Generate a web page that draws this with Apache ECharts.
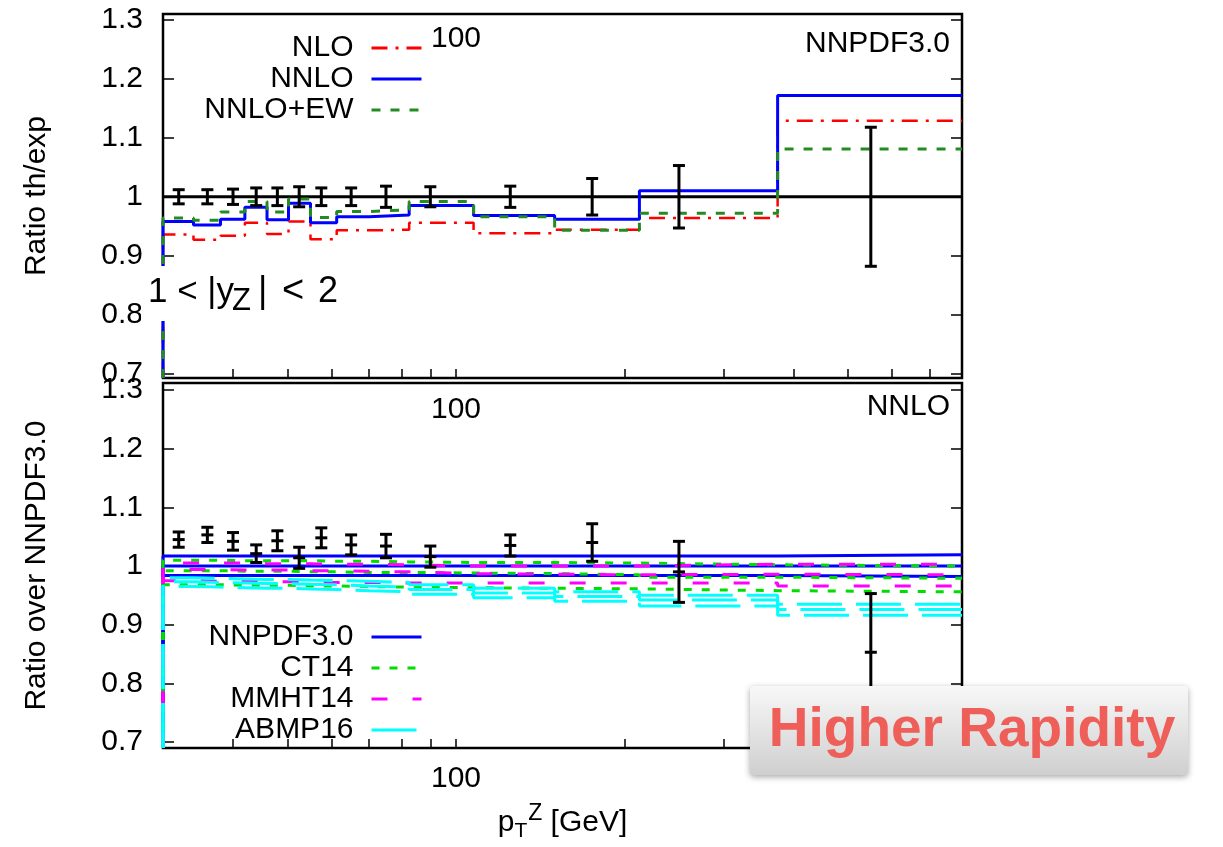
<!DOCTYPE html>
<html><head><meta charset="utf-8">
<script src="https://cdn.jsdelivr.net/npm/echarts@6/dist/echarts.min.js"></script>
<style>html,body{margin:0;padding:0;background:#fff}#c{width:1223px;height:847px}</style>
</head><body><div id="c"></div>
<script>
// ---- data ----
const binEdges = [30, 34, 38, 42, 46, 50.25, 55, 61.25, 70, 82.5, 107.5, 150, 212.5, 375, 800];
const dataPt = [32, 36, 40, 44, 48, 52.5, 57.5, 65, 75, 90, 125, 175, 250, 550];
const yTicks = [0.7, 0.8, 0.9, 1, 1.1, 1.2, 1.3];
const xTicks = [40, 50, 60, 70, 80, 90, 100, 200, 300, 400, 500, 600, 700];
const xLabels = [100];

// top panel: ratio th/exp
const nlo    = [0.936, 0.927, 0.934, 0.956, 0.937, 0.958, 0.928, 0.943, 0.944, 0.956, 0.938, 0.944, 0.964, 1.129];
const nnlo   = [0.958, 0.952, 0.962, 0.982, 0.961, 0.989, 0.956, 0.966, 0.969, 0.985, 0.968, 0.962, 1.010, 1.172];
const nnloEw = [0.964, 0.960, 0.974, 0.992, 0.974, 0.996, 0.965, 0.975, 0.978, 0.992, 0.966, 0.943, 0.972, 1.081];
const topData = [1, 1, 1, 1, 1, 1, 1, 1, 1, 1, 1, 1, 1, 1];
const topErr  = [0.012, 0.012, 0.013, 0.015, 0.015, 0.017, 0.015, 0.015, 0.018, 0.017, 0.018, 0.031, 0.053, 0.118];

// bottom panel: ratio over NNPDF3.0
const botData = [1.045, 1.053, 1.042, 1.021, 1.043, 1.014, 1.048, 1.036, 1.034, 1.016, 1.035, 1.040, 0.990, 0.853];
const botErr  = [0.013, 0.013, 0.015, 0.015, 0.017, 0.018, 0.017, 0.017, 0.020, 0.018, 0.018, 0.032, 0.052, 0.100];

const nnpdfUp  = [1.017, 1.017, 1.017, 1.017, 1.017, 1.017, 1.017, 1.017, 1.017, 1.017, 1.017, 1.017, 1.017, 1.019];
const nnpdfCen = [1.000, 1.000, 1.000, 1.000, 1.000, 1.000, 1.000, 1.000, 1.000, 1.000, 1.000, 1.000, 1.000, 1.000];
const nnpdfLo  = [0.984, 0.984, 0.984, 0.984, 0.984, 0.984, 0.984, 0.984, 0.984, 0.984, 0.984, 0.984, 0.984, 0.982];
const ct14Up   = [1.010, 1.010, 1.009, 1.009, 1.009, 1.009, 1.008, 1.008, 1.007, 1.006, 1.006, 1.005, 1.002, 1.000];
const ct14Cen  = [0.992, 0.992, 0.991, 0.991, 0.991, 0.990, 0.990, 0.989, 0.989, 0.988, 0.987, 0.985, 0.981, 0.979];
const ct14Lo   = [0.968, 0.968, 0.967, 0.967, 0.967, 0.966, 0.966, 0.965, 0.964, 0.963, 0.962, 0.961, 0.958, 0.956];
const mmhtUp   = [1.005, 1.005, 1.005, 1.004, 1.004, 1.004, 1.003, 1.003, 1.002, 1.000, 1.000, 1.000, 1.003, 1.003];
const mmhtCen  = [0.994, 0.994, 0.993, 0.993, 0.993, 0.992, 0.992, 0.991, 0.990, 0.987, 0.986, 0.985, 0.986, 0.985];
const mmhtLo   = [0.975, 0.974, 0.974, 0.973, 0.973, 0.973, 0.972, 0.972, 0.971, 0.971, 0.971, 0.971, 0.971, 0.966];
const abmpUp   = [0.980, 0.979, 0.978, 0.977, 0.977, 0.976, 0.975, 0.974, 0.972, 0.968, 0.962, 0.956, 0.950, 0.935];
const abmpCen  = [0.973, 0.972, 0.971, 0.970, 0.970, 0.969, 0.968, 0.966, 0.964, 0.960, 0.954, 0.948, 0.942, 0.926];
const abmpLo   = [0.965, 0.964, 0.963, 0.962, 0.962, 0.961, 0.960, 0.958, 0.956, 0.952, 0.946, 0.940, 0.932, 0.916];

// ---- chart ----
const FONT = 'Liberation Sans, Arial, Helvetica, sans-serif';
const TOP_Y = [0.6924, 1.3102];
const BOT_Y = [0.6898, 1.3119];
const chart = echarts.init(document.getElementById('c'), null, {renderer: 'canvas'});

function stepSeries(name, ax, vals, color, width, dash, ymin) {
  const d = [[binEdges[0], ymin]];
  vals.forEach((v, i) => d.push([binEdges[i], v]));
  d.push([binEdges[binEdges.length - 1], vals[vals.length - 1]]);
  return {
    name, type: 'line', xAxisIndex: ax, yAxisIndex: ax, step: 'end', data: d,
    symbol: 'none', silent: true, animation: false, clip: true,
    lineStyle: {color, width, type: dash}, itemStyle: {color}
  };
}
function errSeries(ax, ys, es, center) {
  return {
    type: 'custom', xAxisIndex: ax, yAxisIndex: ax, silent: true, animation: false, z: 5,
    data: dataPt.map((x, i) => [x, ys[i], es[i]]),
    renderItem: (params, api) => {
      const x = api.value(0), y = api.value(1), e = api.value(2);
      const a = api.coord([x, y + e]), b = api.coord([x, y - e]), c = api.coord([x, y]);
      const w = 6, st = {stroke: '#000', lineWidth: 3};
      const ch = [
        {type: 'line', shape: {x1: a[0], y1: a[1], x2: b[0], y2: b[1]}, style: st},
        {type: 'line', shape: {x1: a[0] - w, y1: a[1], x2: a[0] + w, y2: a[1]}, style: st},
        {type: 'line', shape: {x1: b[0] - w, y1: b[1], x2: b[0] + w, y2: b[1]}, style: st}
      ];
      if (center) ch.push({type: 'line', shape: {x1: c[0] - w, y1: c[1], x2: c[0] + w, y2: c[1]}, style: st});
      return {type: 'group', children: ch};
    }
  };
}
function xAxisBottom(grid, extra) {
  return Object.assign({
    gridIndex: grid, type: 'log', logBase: 10, min: 30, max: 800, position: 'bottom',
    axisLine: {show: false}, splitLine: {show: false},
    axisTick: {show: true, inside: true, length: 9, customValues: xTicks, lineStyle: {color: '#000', width: 1.5}},
    axisLabel: {show: false}
  }, extra || {});
}
function xAxisTopLabel(grid, margin) {
  return {
    gridIndex: grid, type: 'log', logBase: 10, min: 30, max: 800, position: 'top',
    axisLine: {show: false}, splitLine: {show: false}, axisTick: {show: false},
    axisLabel: {show: true, inside: true, margin, customValues: xLabels, fontSize: 30, fontFamily: FONT, color: '#000'}
  };
}
function yAxisCfg(grid, rng, pos, labels, name) {
  return {
    gridIndex: grid, type: 'value', min: rng[0], max: rng[1], position: pos,
    axisLine: {show: false}, splitLine: {show: false},
    axisTick: {show: true, inside: true, length: 11, customValues: yTicks, lineStyle: {color: '#000', width: 1.5}},
    axisLabel: labels ? {show: true, customValues: yTicks, margin: 20, fontSize: 30, fontFamily: FONT, color: '#000',
      formatter: v => (Math.abs(v - 1) < 1e-9 ? '1' : (+v).toFixed(1))} : {show: false},
    name: name || '', nameLocation: 'middle', nameGap: 111, nameRotate: 90,
    nameTextStyle: {fontSize: 30, fontFamily: FONT, color: '#000'}
  };
}

const series = [
  {type: 'line', xAxisIndex: 0, yAxisIndex: 0, data: [[30, 1], [800, 1]], symbol: 'none', silent: true, animation: false,
   lineStyle: {color: '#000', width: 3}},
  stepSeries('NLO', 0, nlo, '#ff0000', 2.5, [16, 8, 3, 8], TOP_Y[0]),
  stepSeries('NNLO', 0, nnlo, '#0000ff', 3, 'solid', TOP_Y[0]),
  stepSeries('NNLO+EW', 0, nnloEw, '#228b22', 3, [9, 10], TOP_Y[0]),
  errSeries(0, topData, topErr, false),

  stepSeries('NNPDF3.0', 2, nnpdfUp, '#0000ff', 3, 'solid', BOT_Y[0]),
  stepSeries('NNPDF3.0', 2, nnpdfCen, '#0000ff', 3, 'solid', BOT_Y[0]),
  stepSeries('NNPDF3.0', 2, nnpdfLo, '#0000ff', 3, 'solid', BOT_Y[0]),
  stepSeries('CT14', 2, ct14Up, '#00dd00', 3, [8, 10], BOT_Y[0]),
  stepSeries('CT14', 2, ct14Cen, '#00dd00', 3, [8, 10], BOT_Y[0]),
  stepSeries('CT14', 2, ct14Lo, '#00dd00', 3, [8, 10], BOT_Y[0]),
  stepSeries('MMHT14', 2, mmhtUp, '#ff00ff', 3, [16, 25], BOT_Y[0]),
  stepSeries('MMHT14', 2, mmhtCen, '#ff00ff', 3, [16, 25], BOT_Y[0]),
  stepSeries('MMHT14', 2, mmhtLo, '#ff00ff', 3, [16, 25], BOT_Y[0]),
  stepSeries('ABMP16', 2, abmpUp, '#00ffff', 3, [45, 14], BOT_Y[0]),
  stepSeries('ABMP16', 2, abmpCen, '#00ffff', 3, [45, 14], BOT_Y[0]),
  stepSeries('ABMP16', 2, abmpLo, '#00ffff', 3, [45, 14], BOT_Y[0]),
  errSeries(2, botData, botErr, true)
];

const legendBase = {
  orient: 'vertical', align: 'right', right: 800, padding: 0, itemGap: 1, itemWidth: 50, itemHeight: 14,
  selectedMode: false, itemStyle: {opacity: 0}, lineStyle: {width: 3},
  textStyle: {fontSize: 30, fontFamily: FONT, color: '#000', lineHeight: 30, padding: [0, 13, 0, 0]}
};

const option = {
  backgroundColor: '#fff',
  animation: false,
  grid: [
    {left: 163, top: 14, width: 799, height: 364, show: true, borderColor: '#000', borderWidth: 2.5, backgroundColor: 'transparent'},
    {left: 163, top: 383, width: 799, height: 366, show: true, borderColor: '#000', borderWidth: 2.5, backgroundColor: 'transparent'}
  ],
  xAxis: [
    xAxisBottom(0),
    xAxisTopLabel(0, 10),
    xAxisBottom(1, {
      axisLabel: {show: true, customValues: xLabels, margin: 16, fontSize: 30, fontFamily: FONT, color: '#000'},
      name: '{p|p}{t|T}{z|Z}{n| [GeV]}', nameLocation: 'middle', nameGap: 52,
      nameTextStyle: {
        fontFamily: FONT, color: '#000', fontSize: 30,
        rich: {
          p: {fontSize: 30, fontFamily: FONT, lineHeight: 46, verticalAlign: 'middle'},
          t: {fontSize: 21, fontFamily: FONT, lineHeight: 46, verticalAlign: 'bottom', padding: [0, 0, 4, 0]},
          z: {fontSize: 23, fontFamily: FONT, lineHeight: 46, verticalAlign: 'top', padding: [2, 0, 0, 1]},
          n: {fontSize: 30, fontFamily: FONT, lineHeight: 46, verticalAlign: 'middle'}
        }
      }
    }),
    xAxisTopLabel(1, 12)
  ],
  yAxis: [
    yAxisCfg(0, TOP_Y, 'left', true, 'Ratio th/exp'),
    yAxisCfg(0, TOP_Y, 'right', false),
    yAxisCfg(1, BOT_Y, 'left', true, 'Ratio over NNPDF3.0'),
    yAxisCfg(1, BOT_Y, 'right', false)
  ],
  legend: [
    Object.assign({}, legendBase, {top: 33, data: ['NLO', 'NNLO', 'NNLO+EW']}),
    Object.assign({}, legendBase, {top: 622, data: ['NNPDF3.0', 'CT14', 'MMHT14', 'ABMP16']})
  ],
  series,
  graphic: [
    {type: 'text', z: 50, style: {text: 'NNPDF3.0', x: 950, y: 44, align: 'right', verticalAlign: 'middle', font: '30px ' + FONT, fill: '#000'}},
    {type: 'text', z: 50, style: {text: 'NNLO', x: 950, y: 407, align: 'right', verticalAlign: 'middle', font: '30px ' + FONT, fill: '#000'}},
    {type: 'rect', z: 60, shape: {x: 141, y: 266, width: 217, height: 55}, style: {fill: '#fff'}},
    {type: 'text', z: 61, style: {text: '1 < |y', x: 148, y: 292, align: 'left', verticalAlign: 'middle', font: '35px ' + FONT, fill: '#000'}},
    {type: 'text', z: 61, style: {text: 'Z', x: 232, y: 301, align: 'left', verticalAlign: 'middle', font: '31px ' + FONT, fill: '#000'}},
    {type: 'text', z: 61, style: {text: '|', x: 258, y: 292, align: 'left', verticalAlign: 'middle', font: '36px ' + FONT, fill: '#000'}},
    {type: 'text', z: 61, style: {text: '<', x: 282, y: 292, align: 'left', verticalAlign: 'middle', font: '38px ' + FONT, fill: '#000'}},
    {type: 'text', z: 61, style: {text: '2', x: 318, y: 292, align: 'left', verticalAlign: 'middle', font: '36px ' + FONT, fill: '#000'}},
    {type: 'rect', z: 70, shape: {x: 750, y: 686, width: 438, height: 89, r: 4},
     style: {fill: new echarts.graphic.LinearGradient(0, 0, 0, 1, [{offset: 0, color: '#f8f8f8'}, {offset: 1, color: '#cfcfcf'}]),
             shadowBlur: 6, shadowColor: 'rgba(0,0,0,0.35)', shadowOffsetY: 2}},
    {type: 'text', z: 71, style: {text: 'Higher Rapidity', x: 972, y: 731, align: 'center', verticalAlign: 'middle',
      font: 'bold 55px ' + FONT, fill: '#ee5f5a'}}
  ]
};
chart.setOption(option);
</script>
</body></html>
